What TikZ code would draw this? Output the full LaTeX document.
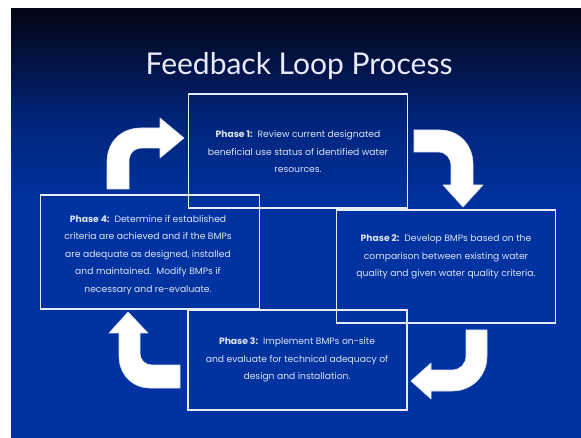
\documentclass[tikz,border=0pt]{standalone}
\usepackage{fontspec}
\setmainfont{Poppins}
\newfontfamily\titlefont{Lato}
\definecolor{bgtop}{RGB}{3,5,18}
\definecolor{bgupper}{RGB}{2,18,66}
\definecolor{bgmid}{RGB}{0,36,122}
\definecolor{bgblue}{RGB}{0,50,160}
\definecolor{lineclr}{RGB}{232,236,246}
\definecolor{txtclr}{RGB}{222,228,242}
% vertical shading: the path box spans 25bp (bottom) to 75bp (top)
\pgfdeclareverticalshading{slidebg}{100bp}{color(0bp)=(bgblue); color(25bp)=(bgblue); color(52bp)=(bgblue); color(62bp)=(bgmid); color(69bp)=(bgupper); color(75bp)=(bgtop); color(100bp)=(bgtop)}
\begin{document}
\begin{tikzpicture}[x=1pt,y=-1pt,
  phasebox/.style={draw=lineclr,line width=1.4pt,minimum width=219pt,inner sep=0pt},
  phasetext/.style={text=txtclr,align=center,font=\fontsize{9.2}{17.5}\selectfont,inner sep=0pt},
  blockarrow/.style={fill=white,draw=white!85!bgblue,line width=0.6pt,line join=round}]
\useasboundingbox (0,0) rectangle (581,438);
% slide background
\shade[shading=slidebg] (11,9) rectangle (581,438);
% title
\node[text=white!92!blue,font=\titlefont\fontsize{30}{34}\selectfont] (title) at (299,66) {Feedback Loop Process};
% the four phase frames
\node[phasebox,minimum height=114pt] (p1) at (298,151) {};
\node[phasebox,minimum height=113pt] (p2) at (446,266.5) {};
\node[phasebox,minimum height=100pt] (p3) at (297.5,360) {};
\node[phasebox,minimum height=114pt] (p4) at (150,252) {};
% phase descriptions
\node[phasetext] (t1) at (298,152) {\textbf{Phase 1:}\ \ Review current designated\\beneficial use status of identified water\\resources.};
\node[phasetext] (t2) at (446,257) {\textbf{Phase 2:}\ \ Develop BMPs based on the\\comparison between existing water\\quality and given water quality criteria.};
\node[phasetext] (t3) at (297,360) {\textbf{Phase 3:}\ \ Implement BMPs on-site\\and evaluate for technical adequacy of\\design and installation.};
\node[phasetext] (t4) at (148,255) {\textbf{Phase 4:}\ \ Determine if established\\criteria are achieved and if the BMPs\\are adequate as designed, installed\\and maintained.\ \ Modify BMPs if\\necessary and re-evaluate.};
% curved block arrows of the loop
% phase 4 -> phase 1
\filldraw[blockarrow] (107,189) -- (107,162) .. controls (107,142) and (121,128) .. (141,128) -- (160,128) -- (160,118) -- (184,138) -- (160,158) -- (160,148) -- (143,148) .. controls (134,148) and (129,153) .. (129,162) -- (129,189) -- cycle;
% phase 1 -> phase 2
\filldraw[blockarrow] (414,130) -- (440,130) .. controls (459,130) and (473,145) .. (473,164) -- (473,185) -- (483,185) -- (463,207) -- (443,185) -- (451,185) -- (451,166) .. controls (451,158) and (446,152) .. (438,152) -- (414,152) -- cycle;
% phase 2 -> phase 3
\filldraw[blockarrow] (466,330) -- (487,330) -- (487,356) .. controls (487,376) and (472,391) .. (452,391) -- (431,391) -- (431,399) -- (411,381) -- (431,363) -- (431,370) -- (452,370) .. controls (460,370) and (466,364) .. (466,356) -- cycle;
% phase 3 -> phase 4
\filldraw[blockarrow] (180,365) -- (180,388) -- (150,388) .. controls (132,388) and (119,374) .. (119,356) -- (119,333) -- (109,333) -- (128,312) -- (148,333) -- (140,333) -- (140,353) .. controls (140,360) and (145,365) .. (152,365) -- cycle;
\end{tikzpicture}
\end{document}
